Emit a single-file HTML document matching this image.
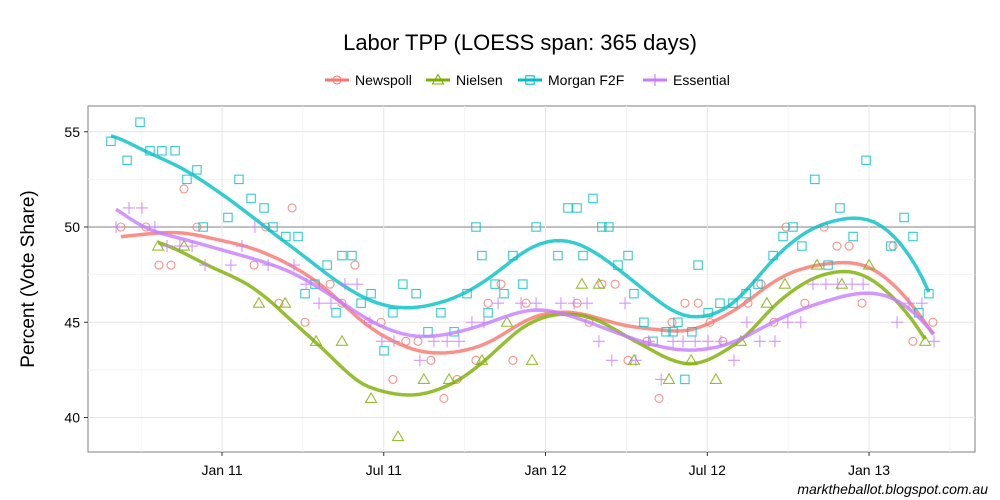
<!DOCTYPE html>
<html><head><meta charset="utf-8"><style>
body{margin:0;background:#fff;font-family:"Liberation Sans",Arial,sans-serif}
svg{display:block}
</style></head><body>
<svg id="chart" width="1000" height="500" viewBox="0 0 1000 500">
<text x="520" y="50" text-anchor="middle" font-size="22" fill="#000">Labor TPP (LOESS span: 365 days)</text>
<g id="legend"></g>
<rect x="88" y="106" width="887" height="346" fill="#fff" stroke="#7f7f7f" stroke-width="1"/>
<g id="grid"></g>
<g id="axes"></g>
<g id="series"></g>
<text transform="translate(34,279) rotate(-90)" text-anchor="middle" font-size="19">Percent (Vote Share)</text>
<text x="988" y="494" text-anchor="end" font-size="14" font-style="italic">marktheballot.blogspot.com.au</text>
</svg>
<script>
// x values: months since Jan 2011
const newspollX=[-3.75,-2.82,-2.34,-1.89,-1.41,-0.93,1.19,1.63,2.11,2.60,3.08,4.01,4.45,4.93,5.42,5.90,6.34,6.82,7.27,7.75,8.23,8.72,9.42,9.87,10.35,10.79,11.28,13.17,13.61,14.09,14.58,15.06,15.76,16.21,16.69,17.17,17.66,18.1,18.58,19.51,19.99,20.47,20.92,21.62,22.33,22.81,23.26,23.74,24.89,25.63,26.37];
const newspollY=[50,50,48,48,52,50,48,50,46,51,45,47,46,48,45,45,42,44,44,43,41,42,43,46,47,43,46,46,45,47,47,43,44,41,45,46,46,45,44,46,47,45,50,46,50,49,49,46,49,44,45];
const nielsenX=[-2.37,-1.41,1.37,2.34,3.49,4.45,5.53,6.53,7.49,8.42,9.64,10.57,11.5,13.35,13.98,15.28,16.58,17.4,18.32,19.25,20.21,20.88,22.07,22.99,24,26.08];
const nielsenY=[49,49,46,46,44,44,41,39,42,42,43,45,43,47,47,43,42,43,42,44,46,47,48,47,48,44];
const morganX=[-4.12,-3.52,-3.04,-2.67,-2.23,-1.74,-1.30,-0.93,-0.70,0.22,0.63,1.08,1.56,1.89,2.37,2.82,3.08,3.45,3.90,4.23,4.45,4.82,5.16,5.53,6.01,6.34,6.71,7.20,7.64,8.12,8.61,9.09,9.42,9.64,9.87,10.13,10.46,10.79,11.16,11.65,12.46,12.83,13.17,13.39,13.76,14.09,14.35,14.69,15.06,15.28,15.65,15.99,16.47,16.73,16.91,17.17,17.43,17.66,18.03,18.47,18.95,19.44,19.88,20.44,20.81,21.18,21.51,21.99,22.48,22.92,23.41,23.89,24.81,25.30,25.63,25.85,26.22];
const morganY=[54.5,53.5,55.5,54,54,54,52.5,53,50,50.5,52.5,51.5,51,50,49.5,49.5,46.5,47,48,45.5,48.5,48.5,46,46.5,43.5,45.5,47,46.5,44.5,45.5,44.5,46.5,50,48.5,45.5,47,46.5,48.5,47,50,48.5,51,51,48.5,51.5,50,50,48,48.5,46.5,45,44,44.5,44.5,45,42,44.5,48,45.5,46,46,46.5,47,48.5,49.5,50,49,52.5,48,51,49.5,53.5,49,50.5,49.5,45.5,46.5];
const essentialX=[-3.93,-3.45,-2.97,-2.49,-2.04,-1.56,-1.11,-0.63,0.33,0.74,1.22,1.71,2.67,3.12,3.6,4.04,4.56,5.01,5.49,5.93,6.38,7.34,7.86,8.35,8.79,9.27,9.72,10.24,11.09,11.65,12.57,13.06,13.54,13.98,14.46,14.95,15.35,15.83,16.29,16.73,17.1,17.55,18.03,18.51,18.99,19.47,19.95,20.51,20.99,21.47,21.92,22.4,22.84,23.37,23.78,25.04,25.48,25.96,26.41];
const essentialY=[50,51,51,50,49,49,49,48,48,49,50,48,48,47,46,46,47,47,45,44,44,43,44,44,44,45,45,46,46,46,46,46,46,44,43,46,43,44,42,44,44,44,44,44,43,45,44,44,45,45,47,47,47,47,47,45,46,46,44];
const yTicks=[40,45,50,55];
const xTickMonths=[0,6,12,18,24];
const xTickLabels=["Jan 11","Jul 11","Jan 12","Jul 12","Jan 13"];

const NS="http://www.w3.org/2000/svg";
const X0=88,X1=975,Y0=106,Y1=452;
const sx=m=>222+m*26.96;
const sy=v=>227-(v-50)*19.05;
function mk(tag,attrs,parent){const e=document.createElementNS(NS,tag);for(const k in attrs)e.setAttribute(k,attrs[k]);parent.appendChild(e);return e;}
const grid=document.getElementById('grid'),axes=document.getElementById('axes'),ser=document.getElementById('series'),leg=document.getElementById('legend');

for(let v=37.5;v<=57.5;v+=5){const y=sy(v);if(y>Y0&&y<Y1){const l=mk('line',{x1:X0,x2:X1,y1:y,y2:y,stroke:'#f2f2f2','stroke-width':0.8},grid);

}}
for(let m=-9;m<=30;m+=6){const x=sx(m);if(x>X0&&x<X1){const l=mk('line',{x1:x,x2:x,y1:Y0,y2:Y1,stroke:'#f2f2f2','stroke-width':0.8},grid);

}}
yTicks.forEach(v=>{const y=sy(v);
const l=mk('line',{x1:X0,x2:X1,y1:y,y2:y,stroke:v===50?'#9a9a9a':'#e6e6e6','stroke-width':v===50?1.3:1},grid);


const t=mk('line',{x1:X0-4,x2:X0,y1:y,y2:y,stroke:'#333'},axes);


const tx=mk('text',{x:X0-8,y:y+5,'text-anchor':'end','font-size':14},axes);tx.textContent=v;

});
xTickMonths.forEach((m,i)=>{const x=sx(m);
const l=mk('line',{x1:x,x2:x,y1:Y0,y2:Y1,stroke:'#e6e6e6','stroke-width':1},grid);


const t=mk('line',{x1:x,x2:x,y1:Y1,y2:Y1+4,stroke:'#333'},axes);


const tx=mk('text',{x:x,y:Y1+23,'text-anchor':'middle','font-size':14},axes);tx.textContent=xTickLabels[i];

});

function loess(xs,ys,x0,h){let a=[[0,0,0],[0,0,0],[0,0,0]],b=[0,0,0];
for(let i=0;i<xs.length;i++){const d=Math.abs(xs[i]-x0)/h;if(d>=1)continue;const w=Math.pow(1-d*d*d,3);const u=xs[i]-x0;const p=[1,u,u*u];
for(let r=0;r<3;r++){b[r]+=w*p[r]*ys[i];for(let c=0;c<3;c++)a[r][c]+=w*p[r]*p[c];}}
const M=a.map((r,i)=>r.concat([b[i]]));
for(let i=0;i<3;i++){let p=i;for(let j=i+1;j<3;j++)if(Math.abs(M[j][i])>Math.abs(M[p][i]))p=j;[M[i],M[p]]=[M[p],M[i]];
for(let j=i+1;j<3;j++){const f=M[j][i]/M[i][i];for(let k=i;k<4;k++)M[j][k]-=f*M[i][k];}}
const s=[0,0,0];for(let i=2;i>=0;i--){let v=M[i][3];for(let k=i+1;k<3;k++)v-=M[i][k]*s[k];s[i]=v/M[i][i];}return s[0];}

function marker(type,x,y,col,parent){let e;
if(type==='circle')e=mk('circle',{cx:x,cy:y,r:4,fill:'none',stroke:col,'stroke-width':1.1},parent);
else if(type==='tri')e=mk('polygon',{points:`${x},${y-5.5} ${x-5.5},${y+4} ${x+5.5},${y+4}`,fill:'none',stroke:col,'stroke-width':1.1},parent);
else if(type==='sq')e=mk('rect',{x:x-4.2,y:y-4.2,width:8.4,height:8.4,fill:'none',stroke:col,'stroke-width':1.1},parent);
else e=mk('path',{d:`M${x-6},${y}H${x+6}M${x},${y-6}V${y+6}`,stroke:col,'stroke-width':1.1,fill:'none'},parent);
return e;}

const seriesDefs=[
{name:'newspoll',label:'Newspoll',xs:newspollX,ys:newspollY,col:'#F8766D',m:'circle',lx:325},
{name:'nielsen',label:'Nielsen',xs:nielsenX,ys:nielsenY,col:'#7CAE00',m:'tri',lx:426},
{name:'morgan-f2f',label:'Morgan F2F',xs:morganX,ys:morganY,col:'#00BFC4',m:'sq',lx:518},
{name:'essential',label:'Essential',xs:essentialX,ys:essentialY,col:'#C77CFF',m:'plus',lx:643}];
seriesDefs.forEach(s=>{
const g=mk('g',{},ser);


s.xs.forEach((x,i)=>{const e=marker(s.m,sx(x),sy(s.ys[i]),s.col,g);e.setAttribute('opacity','0.8');

});
const lo=Math.min(...s.xs),hi=Math.max(...s.xs);let d='';
for(let k=0;k<=120;k++){const m=lo+(hi-lo)*k/120;const v=loess(s.xs,s.ys,m,7);d+=(k?'L':'M')+sx(m).toFixed(1)+','+sy(v).toFixed(1);}
const p=mk('path',{d:d,fill:'none',stroke:s.col,'stroke-width':3.5,'stroke-linejoin':'round','stroke-opacity':0.8},g);


const lg=mk('g',{},leg);


mk('line',{x1:s.lx,x2:s.lx+24,y1:80,y2:80,stroke:s.col,'stroke-width':3},lg);
marker(s.m,s.lx+12,80,s.col,lg);
const t=mk('text',{x:s.lx+30,y:85,'font-size':14},lg);t.textContent=s.label;
});
</script>
</body></html>
